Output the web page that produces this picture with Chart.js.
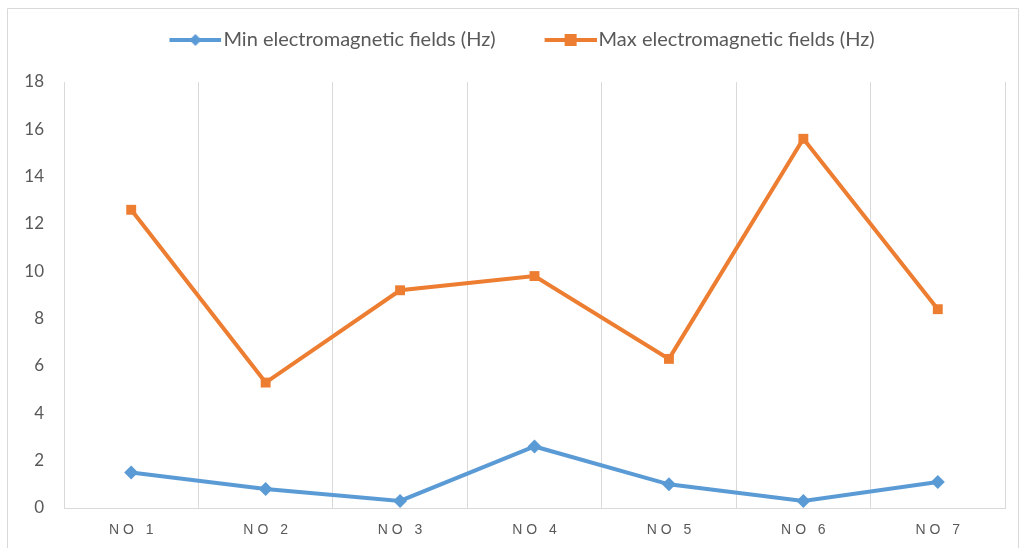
<!DOCTYPE html>
<html>
<head>
<meta charset="utf-8">
<title>Electromagnetic fields</title>
<script src="https://cdn.jsdelivr.net/npm/chart.js"></script>
<style>
  html, body { margin: 0; padding: 0; background: #fff; }
  #wrap { position: relative; width: 1020px; height: 548px; }
</style>
</head>
<body>
<div id="wrap"><canvas id="chart" width="1020" height="548"></canvas></div>
<script>
// data
const categories = ['NO 1', 'NO 2', 'NO 3', 'NO 4', 'NO 5', 'NO 6', 'NO 7'];
const minFields = [1.5, 0.8, 0.3, 2.6, 1.0, 0.3, 1.1];
const maxFields = [12.6, 5.3, 9.2, 9.8, 6.3, 15.6, 8.4];
const seriesNames = ['Min electromagnetic fields (Hz)', 'Max electromagnetic fields (Hz)'];
const yTicks = [0, 2, 4, 6, 8, 10, 12, 14, 16, 18];

const BLUE = '#5B9BD5';
const ORANGE = '#ED7D31';
const GRID = '#d9d9d9';
const TEXT = '#595959';

// legend swatch: short line with the marker in the middle.
// the image is 16px wider than its legend box so the line reaches the text
function legendIcon(color, shape) {
  const c = document.createElement('canvas');
  c.width = 79; c.height = 14;
  const g = c.getContext('2d');
  g.strokeStyle = color; g.lineWidth = 4;
  g.beginPath(); g.moveTo(27, 7); g.lineTo(79, 7); g.stroke();
  g.fillStyle = color;
  g.beginPath();
  if (shape === 'diamond') {
    g.moveTo(53, 1); g.lineTo(59, 7); g.lineTo(53, 13); g.lineTo(47, 7);
  } else {
    g.rect(47, 1, 12, 12);
  }
  g.closePath(); g.fill();
  return c;
}

// light frame round the whole chart, like the exported picture
const framePlugin = {
  id: 'frame',
  beforeDraw(chart) {
    const ctx = chart.ctx;
    ctx.save();
    ctx.strokeStyle = GRID;
    ctx.lineWidth = 1;
    ctx.beginPath();
    ctx.moveTo(7.5, 560); ctx.lineTo(7.5, 8.5); ctx.lineTo(1018.5, 8.5); ctx.lineTo(1018.5, 560);
    ctx.stroke();
    ctx.restore();
  }
};

// extra room under the legend before the plot starts
const legendGap = {
  id: 'legendGap',
  afterInit(chart) {
    const lg = chart.legend;
    const fit = lg.fit.bind(lg);
    lg.fit = function () { fit(); this.height += 22; };
  }
};

new Chart(document.getElementById('chart'), {
  type: 'line',
  data: {
    labels: categories,
    datasets: [
      {
        label: seriesNames[0],
        data: minFields,
        borderColor: BLUE,
        backgroundColor: BLUE,
        borderWidth: 4,
        pointStyle: 'rectRot',
        pointRadius: 7,
        pointHoverRadius: 7,
        pointBorderWidth: 0,
        tension: 0
      },
      {
        label: seriesNames[1],
        data: maxFields,
        borderColor: ORANGE,
        backgroundColor: ORANGE,
        borderWidth: 4,
        pointStyle: 'rect',
        pointRadius: 7,
        pointHoverRadius: 7,
        pointBorderWidth: 0,
        tension: 0
      }
    ]
  },
  options: {
    responsive: false,
    animation: false,
    layout: { padding: { top: 0, right: 15, left: 20, bottom: 0 } },
    plugins: {
      tooltip: { enabled: false },
      legend: {
        position: 'top',
        labels: {
          usePointStyle: true,
          pointStyleWidth: 63,
          color: TEXT,
          font: { family: 'Lato', size: 20 },
          padding: 30,
          generateLabels(chart) {
            return chart.data.datasets.map((ds, i) => ({
              text: ds.label,
              fillStyle: ds.borderColor,
              strokeStyle: ds.borderColor,
              fontColor: TEXT,
              lineWidth: 0,
              pointStyle: legendIcon(ds.borderColor, i === 0 ? 'diamond' : 'square'),
              datasetIndex: i
            }));
          }
        }
      }
    },
    scales: {
      x: {
        offset: true,
        afterFit: (scale) => { scale.height = 40; },
        grid: { display: true, offset: true, color: GRID, drawTicks: false },
        border: { display: true, color: GRID },
        ticks: {
          color: TEXT,
          font: { family: 'Liberation Sans', size: 14 },
          padding: 14,
          callback: (v, i) => categories[i].split('').join('\u2009\u200A')
        }
      },
      y: {
        min: 0,
        max: 18,
        afterBuildTicks: (scale) => { scale.ticks = yTicks.map(v => ({ value: v })); },
        afterFit: (scale) => { scale.width = 44; },
        grid: { display: false },
        border: { display: false },
        ticks: {
          color: TEXT,
          font: { family: 'Lato', size: 17 },
          padding: 12
        }
      }
    }
  },
  plugins: [framePlugin, legendGap]
});
</script>
</body>
</html>
